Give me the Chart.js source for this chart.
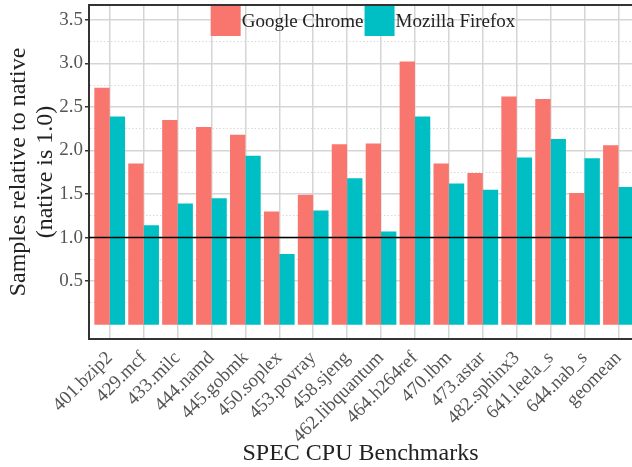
<!DOCTYPE html>
<html>
<head>
<meta charset="utf-8">
<script src="https://cdn.jsdelivr.net/npm/chart.js@4.4.1/dist/chart.umd.min.js"></script>
<style>
  html, body { margin: 0; padding: 0; background: #fff; }
  #wrap { width: 632px; height: 467px; }
</style>
</head>
<body>
<div id="wrap"><canvas id="specchart"></canvas></div>
<script>
// benchmark names along the x axis
const benchmarks = ['401.bzip2', '429.mcf', '433.milc', '444.namd', '445.gobmk', '450.soplex',
  '453.povray', '458.sjeng', '462.libquantum', '464.h264ref', '470.lbm', '473.astar',
  '482.sphinx3', '641.leela_s', '644.nab_s', 'geomean'];

// samples relative to native
const chromeSamples = [2.72, 1.85, 2.35, 2.27, 2.18, 1.30, 1.49, 2.07, 2.08, 3.02, 1.85, 1.74, 2.62, 2.59, 1.51, 2.06];
const firefoxSamples = [2.39, 1.14, 1.39, 1.45, 1.94, 0.81, 1.31, 1.68, 1.07, 2.39, 1.62, 1.55, 1.92, 2.13, 1.91, 1.58];

const yMajorTicks = [0.5, 1.0, 1.5, 2.0, 2.5, 3.0, 3.5];
const yMinorTicks = [0.25, 0.75, 1.25, 1.75, 2.25, 2.75, 3.25];
const nativeLevel = 1.0;

const serif = '"Liberation Serif", "Times New Roman", serif';

function isMajor(v) {
  return yMajorTicks.includes(v);
}

// black line at native level + top spine
const nativeLine = {
  id: 'nativeLine',
  afterDatasetsDraw(chart) {
    const { ctx, chartArea, scales } = chart;
    const y = scales.y.getPixelForValue(nativeLevel);
    ctx.save();
    ctx.strokeStyle = '#000';
    ctx.lineWidth = 1.5;
    ctx.beginPath();
    ctx.moveTo(chartArea.left, y);
    ctx.lineTo(chartArea.right, y);
    ctx.stroke();
    ctx.strokeStyle = '#333';
    ctx.lineWidth = 2;
    ctx.beginPath();
    ctx.moveTo(chartArea.left, chartArea.top);
    ctx.lineTo(chartArea.right, chartArea.top);
    ctx.stroke();
    ctx.restore();
  }
};

// legend sitting inside the plot, upper center
const insideLegend = {
  id: 'insideLegend',
  afterDraw(chart) {
    const { ctx, chartArea } = chart;
    const box = 30;
    ctx.save();
    ctx.font = '19px ' + serif;
    const items = chart.data.datasets.map(ds => ({
      label: ds.label,
      color: ds.backgroundColor,
      w: ctx.measureText(ds.label).width
    }));
    const total = items.reduce((s, it) => s + box + it.w + 2, 0);
    let x = (chartArea.left + chartArea.right) / 2 - total / 2 + 3;
    const y = chartArea.top + 1;
    items.forEach(it => {
      ctx.fillStyle = it.color;
      ctx.fillRect(x, y, box, box);
      ctx.fillStyle = '#222';
      ctx.textBaseline = 'middle';
      ctx.fillText(it.label, x + box + 1, y + box / 2 + 1);
      x += box + it.w + 2;
    });
    ctx.restore();
  }
};

const ctx = document.getElementById('specchart').getContext('2d');

const chart = new Chart(ctx, {
  type: 'bar',
  data: {
    datasets: [{
      label: 'Google Chrome',
      backgroundColor: '#F8766D',
      data: chromeSamples.map((v, i) => ({ x: i, y: v }))
    }, {
      label: 'Mozilla Firefox',
      backgroundColor: '#00BFC4',
      data: firefoxSamples.map((v, i) => ({ x: i, y: v }))
    }]
  },
  options: {
    responsive: true,
    maintainAspectRatio: false,
    animation: false,
    devicePixelRatio: 1,
    categoryPercentage: 0.905,
    barPercentage: 1.0,
    layout: { padding: { top: 5, right: 0, bottom: 0, left: 0 } },
    plugins: {
      legend: { display: false },
      tooltip: { enabled: false }
    },
    scales: {
      x: {
        type: 'linear',
        offset: false,
        min: -0.61,
        max: 15.4,
        afterBuildTicks: (scale) => {
          scale.ticks = benchmarks.map((_, i) => ({ value: i }));
        },
        afterFit: (scale) => {
          scale.height = 128;
          scale.paddingLeft = 0;
          scale.paddingRight = 0;
        },
        ticks: {
          autoSkip: false,
          minRotation: 45,
          maxRotation: 45,
          padding: 8,
          color: '#555',
          font: { family: serif, size: 19 },
          callback: (v) => benchmarks[v] !== undefined ? benchmarks[v] : ''
        },
        grid: {
          offset: false,
          color: '#d5d5d5',
          lineWidth: 1.5,
          drawTicks: false
        },
        border: { color: '#333', width: 2 },
        title: {
          display: true,
          text: 'SPEC CPU Benchmarks',
          color: '#222',
          font: { family: serif, size: 24, lineHeight: 1.1 },
          padding: { top: 0, bottom: 0 }
        }
      },
      y: {
        min: -0.165,
        max: 3.67,
        afterBuildTicks: (scale) => {
          scale.ticks = yMinorTicks.concat(yMajorTicks)
            .sort((a, b) => a - b)
            .map(v => ({ value: v }));
        },
        afterFit: (scale) => {
          scale.width = 89;
          scale.paddingTop = 0;
          scale.paddingBottom = 0;
        },
        ticks: {
          autoSkip: false,
          padding: 2,
          color: '#555',
          font: { family: serif, size: 19 },
          callback: (v) => isMajor(v) ? v.toFixed(1) : ''
        },
        grid: {
          color: (c) => c.tick && isMajor(c.tick.value) ? '#d5d5d5' : '#dadada',
          lineWidth: (c) => c.tick && isMajor(c.tick.value) ? 1.5 : 1,
          tickLength: 4,
          tickColor: (c) => c.tick && isMajor(c.tick.value) ? '#333' : 'rgba(0,0,0,0)'
        },
        border: {
          color: '#333',
          width: 2,
          dash: (c) => c.tick && !isMajor(c.tick.value) ? [1.5, 2] : []
        },
        title: {
          display: true,
          text: ['Samples relative to native', '(native is 1.0)'],
          color: '#222',
          font: { family: serif, size: 24, lineHeight: 1.125 },
          padding: { top: 5, bottom: 0 }
        }
      }
    }
  },
  plugins: [nativeLine, insideLegend]
});
</script>
</body>
</html>
